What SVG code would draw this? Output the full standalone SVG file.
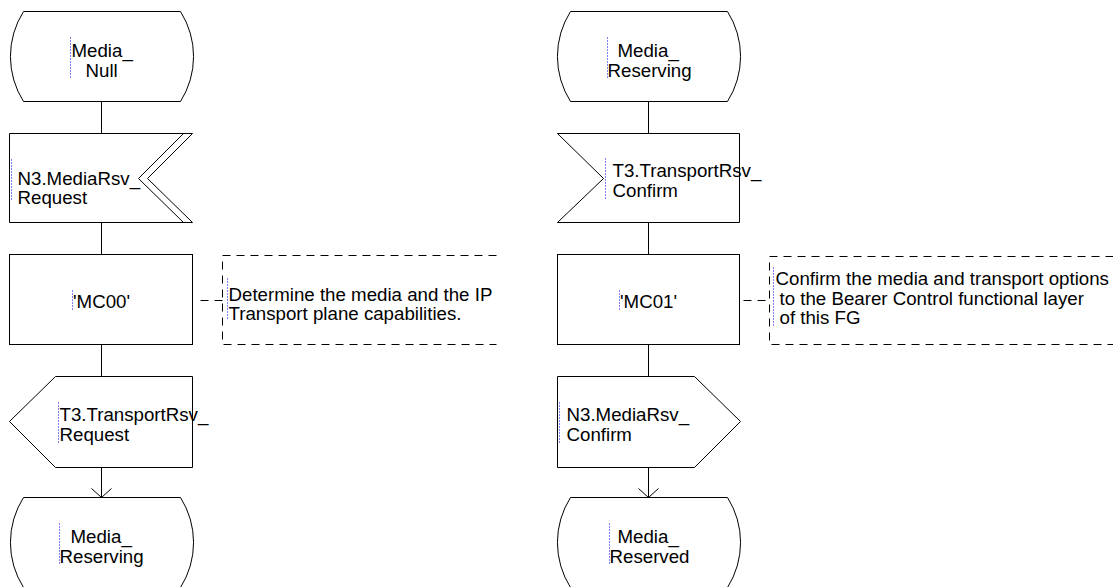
<svg xmlns="http://www.w3.org/2000/svg" width="1113" height="587" viewBox="0 0 1113 587">
<style>
.s{fill:#fff;stroke:#000;stroke-width:1}
.ln{fill:none;stroke:#000;stroke-width:1}
.dash{fill:none;stroke:#000;stroke-width:1;stroke-dasharray:8 6}
.blue{fill:none;stroke:#0000ff;stroke-width:1;stroke-dasharray:1 2}
text{font-family:"Liberation Sans",Arial,sans-serif;font-size:18.7px;fill:#000}
</style>
<rect width="1113" height="587" fill="#fff"/>
<g transform="translate(0.5 0.5)">
<g id="connectors">
<line class="ln" x1="101" y1="101" x2="101" y2="133"/>
<line class="ln" x1="101" y1="222" x2="101" y2="254"/>
<line class="ln" x1="101" y1="344" x2="101" y2="376"/>
<line class="ln" x1="101" y1="467" x2="101" y2="497"/>
<path class="ln" d="M91,488 L101,497 L111,488"/>
<line class="ln" x1="648" y1="101" x2="648" y2="133"/>
<line class="ln" x1="648" y1="222" x2="648" y2="254"/>
<line class="ln" x1="648" y1="344" x2="648" y2="376"/>
<line class="ln" x1="648" y1="467" x2="648" y2="497"/>
<path class="ln" d="M638,488 L648,497 L658,488"/>
<line class="dash" x1="200" y1="300" x2="222" y2="300"/>
<line class="dash" x1="743" y1="300" x2="769" y2="300"/>
</g>
<g id="state_media_null">
<path class="s" d="M23,11 H180 A84,84 0 0 1 180,101 H23 A84,84 0 0 1 23,11 Z"/>
<line class="blue" x1="70" y1="37" x2="70" y2="79"/>
<text x="71" y="56">Media_</text>
<text x="85" y="76">Null</text>
</g>
<g id="input_n3_mediarsv_request">
<path class="s" d="M9,133 H192 L147,178 L192,222 H9 Z"/>
<path class="ln" d="M183,133 L138,178 L183,222"/>
<line class="blue" x1="11" y1="159" x2="11" y2="201"/>
<text x="17" y="184">N3.MediaRsv_</text>
<text x="17" y="203">Request</text>
</g>
<g id="task_mc00">
<rect class="s" x="9" y="254" width="183" height="90"/>
<line class="blue" x1="72" y1="290" x2="72" y2="309"/>
<text x="101" y="307" text-anchor="middle">'MC00'</text>
</g>
<g id="comment_mc00">
<path class="dash" d="M496,255 H222 V344 H496"/>
<line class="blue" x1="227" y1="278" x2="227" y2="319"/>
<text x="228" y="300">Determine the media and the IP</text>
<text x="228" y="319">Transport plane capabilities.</text>
</g>
<g id="output_t3_transportrsv_request">
<path class="s" d="M55,376 H192 V467 H55 L9,421 Z"/>
<line class="blue" x1="58" y1="402" x2="58" y2="443"/>
<text x="59" y="420">T3.TransportRsv_</text>
<text x="59" y="440">Request</text>
</g>
<g id="state_media_reserving_left">
<path class="s" d="M23,497 H180 A84,84 0 0 1 180,587 H23 A84,84 0 0 1 23,497 Z"/>
<line class="blue" x1="59" y1="523" x2="59" y2="565"/>
<text x="70" y="542">Media_</text>
<text x="59" y="562">Reserving</text>
</g>
<g id="state_media_reserving_right">
<path class="s" d="M570,11 H727 A84,84 0 0 1 727,101 H570 A84,84 0 0 1 570,11 Z"/>
<line class="blue" x1="607" y1="37" x2="607" y2="79"/>
<text x="617" y="56">Media_</text>
<text x="607" y="76">Reserving</text>
</g>
<g id="input_t3_transportrsv_confirm">
<path class="s" d="M557,133 H739 V222 H557 L603,178 Z"/>
<line class="blue" x1="605" y1="158" x2="605" y2="200"/>
<text x="612" y="176">T3.TransportRsv_</text>
<text x="612" y="196">Confirm</text>
</g>
<g id="task_mc01">
<rect class="s" x="557" y="254" width="182" height="90"/>
<line class="blue" x1="619" y1="290" x2="619" y2="309"/>
<text x="648" y="307" text-anchor="middle">'MC01'</text>
</g>
<g id="comment_mc01">
<path class="dash" d="M1113,256 H769 V344 H1113"/>
<line class="blue" x1="773" y1="267" x2="773" y2="327"/>
<text x="775" y="284">Confirm the media and transport options</text>
<text x="779" y="304">to the Bearer Control functional layer</text>
<text x="779" y="323">of this FG</text>
</g>
<g id="output_n3_mediarsv_confirm">
<path class="s" d="M557,376 H694 L740,421 L694,467 H557 Z"/>
<line class="blue" x1="559" y1="402" x2="559" y2="443"/>
<text x="566" y="420">N3.MediaRsv_</text>
<text x="566" y="440">Confirm</text>
</g>
<g id="state_media_reserved">
<path class="s" d="M570,497 H727 A84,84 0 0 1 727,587 H570 A84,84 0 0 1 570,497 Z"/>
<line class="blue" x1="609" y1="523" x2="609" y2="565"/>
<text x="617" y="542">Media_</text>
<text x="609" y="562">Reserved</text>
</g>
</g>
</svg>
